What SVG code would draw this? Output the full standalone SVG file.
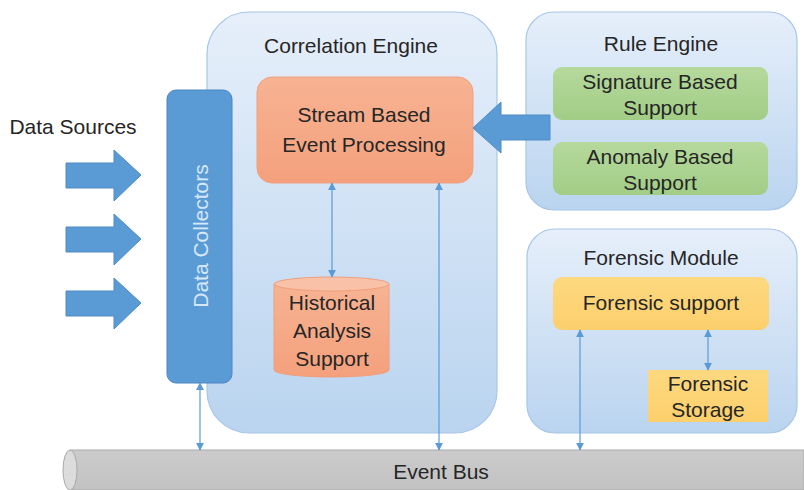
<svg xmlns="http://www.w3.org/2000/svg" width="804" height="490" viewBox="0 0 804 490">
<defs>
<linearGradient id="gBlue" x1="0" y1="0" x2="0" y2="1">
<stop offset="0" stop-color="#e6effa"/>
<stop offset="1" stop-color="#bad4ef"/>
</linearGradient>
<linearGradient id="gOrange" x1="0" y1="0" x2="0" y2="1">
<stop offset="0" stop-color="#f7b393"/>
<stop offset="1" stop-color="#f4a07c"/>
</linearGradient>
<linearGradient id="gGreen" x1="0" y1="0" x2="0" y2="1">
<stop offset="0" stop-color="#b5d99c"/>
<stop offset="1" stop-color="#a2cd86"/>
</linearGradient>
<linearGradient id="gYellow" x1="0" y1="0" x2="0" y2="1">
<stop offset="0" stop-color="#fed980"/>
<stop offset="1" stop-color="#fccf6c"/>
</linearGradient>
<linearGradient id="gGray" x1="0" y1="0" x2="0" y2="1">
<stop offset="0" stop-color="#cbcbcb"/>
<stop offset="1" stop-color="#c2c2c2"/>
</linearGradient>
<marker id="ah" viewBox="0 0 10 10" refX="9" refY="5" markerWidth="8" markerHeight="8" markerUnits="userSpaceOnUse" orient="auto-start-reverse">
<path d="M0,0 L10,5 L0,10 z" fill="#5b9bd5"/>
</marker>
<style>
.cont{fill:url(#gBlue);stroke:#a8c6e8;stroke-width:1.2}
.txt{font-family:"Liberation Sans",Arial,sans-serif;font-size:21px;fill:#262626;text-anchor:middle}
.conn{stroke:#5b9bd5;stroke-width:1.2;fill:none;marker-start:url(#ah);marker-end:url(#ah)}
.barrow{fill:#5b9bd5;stroke:#4f8bc4;stroke-width:1}
</style>
</defs>

<g id="event-bus">
<path d="M70,450 L804,450 L804,490 L70,490 Z" fill="url(#gGray)" stroke="#a9a9a9" stroke-width="1"/>
<ellipse cx="70" cy="470" rx="7" ry="20" fill="#dcdcdc" stroke="#a9a9a9" stroke-width="1"/>
<text class="txt" x="441" y="479">Event Bus</text>
</g>

<g id="correlation-engine">
<rect class="cont" x="207" y="12" width="290" height="421" rx="42"/>
<text class="txt" x="351" y="53">Correlation Engine</text>
</g>

<g id="rule-engine">
<rect class="cont" x="526" y="12" width="271" height="198" rx="28"/>
<text class="txt" x="661" y="51">Rule Engine</text>
</g>

<g id="forensic-module">
<rect class="cont" x="527" y="229" width="270" height="204" rx="28"/>
<text class="txt" x="661" y="265">Forensic Module</text>
</g>

<g id="data-sources">
<text class="txt" x="73" y="134">Data Sources</text>
<path class="barrow" d="M66,163 L114,163 L114,150 L141,175 L114,201 L114,188 L66,188 Z"/>
<path class="barrow" d="M66,227 L114,227 L114,214 L141,239 L114,265 L114,252 L66,252 Z"/>
<path class="barrow" d="M66,291 L114,291 L114,278 L141,303 L114,329 L114,316 L66,316 Z"/>
</g>

<g id="data-collectors">
<rect x="167" y="90" width="65" height="293" rx="9" fill="#5b9bd5" stroke="#4a86c0" stroke-width="1"/>
<text class="txt" transform="translate(208,236) rotate(-90)" style="fill:#d6e7f7">Data Collectors</text>
</g>

<g id="stream-processing">
<rect x="257" y="77" width="216" height="106" rx="15" fill="url(#gOrange)" stroke="#f0a07e" stroke-width="1"/>
<text class="txt" x="364" y="122">Stream Based</text>
<text class="txt" x="364" y="152">Event Processing</text>
</g>

<g id="rule-arrow">
<path class="barrow" d="M550,115 L501,115 L501,102 L473,128 L501,153 L501,140 L550,140 Z"/>
</g>

<g id="historical-analysis">
<path d="M274,284 L274,370 A57.5,7 0 0 0 389,370 L389,284 Z" fill="url(#gOrange)" stroke="#f09e7c" stroke-width="1"/>
<ellipse cx="331.5" cy="284" rx="57.5" ry="7" fill="#f9c2a8" stroke="#f09e7c" stroke-width="1"/>
<text class="txt" x="332" y="310">Historical</text>
<text class="txt" x="332" y="338">Analysis</text>
<text class="txt" x="332" y="366">Support</text>
</g>

<g id="signature-support">
<rect x="553" y="67" width="215" height="53" rx="9" fill="url(#gGreen)"/>
<text class="txt" x="660" y="89">Signature Based</text>
<text class="txt" x="660" y="115">Support</text>
</g>

<g id="anomaly-support">
<rect x="553" y="142" width="215" height="53" rx="9" fill="url(#gGreen)"/>
<text class="txt" x="660" y="164">Anomaly Based</text>
<text class="txt" x="660" y="190">Support</text>
</g>

<g id="forensic-support">
<rect x="553" y="277" width="216" height="53" rx="9" fill="url(#gYellow)"/>
<text class="txt" x="661" y="310">Forensic support</text>
</g>

<g id="forensic-storage">
<rect x="648" y="370" width="120" height="52" fill="url(#gYellow)"/>
<text class="txt" x="708" y="391">Forensic</text>
<text class="txt" x="708" y="417">Storage</text>
</g>

<g id="connectors">
<line class="conn" x1="332" y1="183" x2="332" y2="277"/>
<line class="conn" x1="439" y1="183" x2="439" y2="450"/>
<line class="conn" x1="200" y1="383" x2="200" y2="450"/>
<line class="conn" x1="580" y1="330" x2="580" y2="450"/>
<line class="conn" x1="708" y1="330" x2="708" y2="370"/>
</g>
</svg>
